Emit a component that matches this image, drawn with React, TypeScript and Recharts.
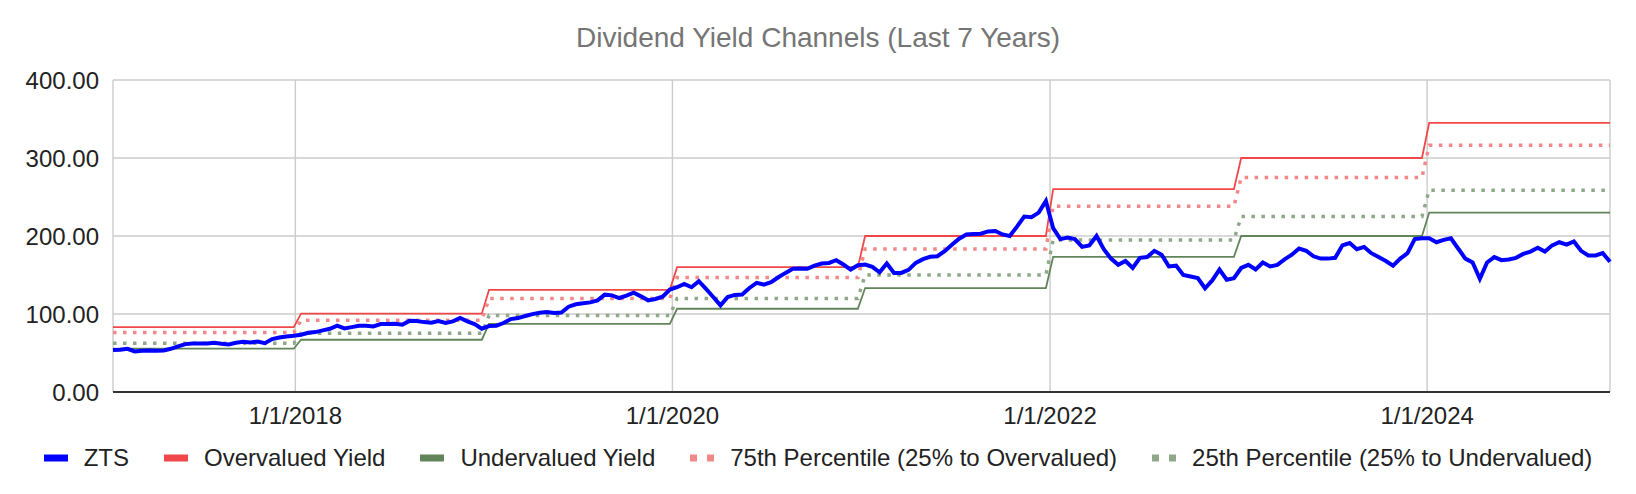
import { CartesianGrid, Legend, Line, LineChart, XAxis, YAxis } from "recharts";

const FONT = '"Liberation Sans", Arial, sans-serif';

// biweekly observations, Jan 2017 through Dec 2024
const START = Date.UTC(2017, 0, 13);
const STEP = 14 * 24 * 3600 * 1000;

const ZTS = [
  53.7, 54.1, 55.4, 52, 52.8, 53.3, 52.8, 53.3, 55.4, 58.4,
  61.4, 62.2, 62.2, 62.2, 63.1, 61.8, 61, 63.1, 64.3, 63.5,
  64.8, 62.6, 67.8, 69.9, 71.2, 72.1, 73.4, 76, 76.8, 79,
  81.1, 85, 81.5, 83.2, 85, 85, 84.1, 87.1, 87.1, 87.6,
  86.3, 91.2, 91, 89.6, 88.8, 91, 88.4, 90.5, 94.8, 90.5,
  87.1, 81.2, 84.5, 85, 88.4, 93.5, 94.8, 97.4, 99.9, 101.6,
  102.5, 101.2, 102, 109.4, 112.4, 113.7, 114.9, 117.5, 124.8, 123.9,
  120.5, 123.5, 127.4, 122.6, 117.5, 119.2, 122.2, 131.3, 134.3, 138.6,
  134.3, 142, 132.1, 121.8, 111, 121.8, 124.5, 124.9, 133.4, 139.9,
  137.7, 140.7, 147.1, 152.7, 157.9, 158.3, 157.9, 162.1, 164.7, 165.5,
  169, 163.4, 157, 162.6, 163.4, 160.4, 153.5, 164.7, 152.7, 152.7,
  156.6, 165.5, 170.3, 173.3, 174.1, 180.6, 188.8, 196.5, 202, 202.5,
  202.9, 205.9, 206.5, 202, 200, 212, 225, 224, 230, 245,
  210, 196, 198, 196, 186, 188, 200, 183, 171, 163,
  168, 159, 172, 173, 181, 176, 161, 162, 150, 148,
  146, 133, 143, 157, 144, 146, 159, 163, 157, 166,
  161, 163, 170, 176, 184, 181, 174, 171, 171, 172,
  188, 191, 183, 186, 178, 173, 168, 162, 171, 178,
  196, 197, 197, 192, 195, 197, 184, 171, 166, 145,
  166, 173, 169, 170, 172, 177, 180, 185, 180, 188,
  192, 189, 193, 181, 175, 175, 178, 167,
];

const DATES = ZTS.map((_, i) => START + i * STEP);

// yearly channel levels, 2017..2024
const FIRST_YEAR = 2017;
const OVERVALUED = [83.2, 100.4, 131, 160, 200, 260, 300, 345];
const UNDERVALUED = [55.5, 67, 87.3, 106.7, 133.3, 173.3, 200, 230];
const PCT_75 = [76.3, 92, 120, 146.7, 183.3, 238.3, 275, 316.3];
const PCT_25 = [62.4, 75.3, 98.2, 120, 150, 195, 225, 258.8];

const X_TICK_LABELS = ["1/1/2018", "1/1/2020", "1/1/2022", "1/1/2024"];
const X_TICKS = X_TICK_LABELS.map((s) => {
  const [m, d, y] = s.split("/").map(Number);
  return Date.UTC(y, m - 1, d);
});
const Y_TICKS = [0, 100, 200, 300, 400];

const data = DATES.map((t, i) => {
  const yi = new Date(t).getUTCFullYear() - FIRST_YEAR;
  return {
    t,
    zts: ZTS[i],
    over: OVERVALUED[yi],
    under: UNDERVALUED[yi],
    p75: PCT_75[yi],
    p25: PCT_25[yi],
  };
});

const SERIES = [
  { key: "zts", name: "ZTS", color: "#0000ff", width: 4, dotted: false },
  { key: "over", name: "Overvalued Yield", color: "#f04848", width: 1.8, dotted: false },
  { key: "under", name: "Undervalued Yield", color: "#62845a", width: 1.8, dotted: false },
  { key: "p75", name: "75th Percentile (25% to Overvalued)", color: "#f28888", width: 3.5, dotted: true },
  { key: "p25", name: "25th Percentile (25% to Undervalued)", color: "#8fa889", width: 3.5, dotted: true },
];

function formatDate(t: number) {
  const i = X_TICKS.indexOf(t);
  return i >= 0 ? X_TICK_LABELS[i] : "";
}

function ChartLegend() {
  return (
    <div
      style={{
        display: "flex",
        justifyContent: "center",
        alignItems: "center",
        height: 30,
        gap: 35,
        fontFamily: FONT,
        fontSize: 24,
        color: "#222",
        whiteSpace: "nowrap",
      }}
    >
      {SERIES.map((s) => (
        <div key={s.key} style={{ display: "flex", alignItems: "center" }}>
          <svg width={24} height={8} style={{ marginRight: 16 }}>
            {s.dotted ? (
              <line x1={0} y1={4} x2={24} y2={4} stroke={s.color} strokeWidth={7} strokeDasharray="7 10" />
            ) : (
              <rect x={0} y={0.5} width={24} height={7} fill={s.color} />
            )}
          </svg>
          <span>{s.name}</span>
        </div>
      ))}
    </div>
  );
}

export default function App() {
  const drawOrder = [...SERIES.slice(1), SERIES[0]];
  return (
    <div style={{ position: "absolute", left: 0, top: 0, background: "#fff" }}>
      <LineChart
        width={1636}
        height={494}
        data={data}
        margin={{ top: 80, right: 26, bottom: 21, left: 0 }}
        style={{ fontFamily: FONT }}
      >
        <text x={818} y={47} textAnchor="middle" fontSize={28} fill="#757575" fontFamily={FONT}>
          Dividend Yield Channels (Last 7 Years)
        </text>
        <CartesianGrid stroke="#cccccc" strokeWidth={1.4} />
        <XAxis
          dataKey="t"
          type="number"
          domain={["dataMin", "dataMax"]}
          ticks={X_TICKS}
          tickFormatter={formatDate}
          height={51}
          tickSize={0}
          tickMargin={15}
          tick={{ fontSize: 24, fill: "#222", fontFamily: FONT }}
          axisLine={{ stroke: "#333", strokeWidth: 2 }}
          tickLine={false}
        />
        <YAxis
          type="number"
          domain={[0, 400]}
          ticks={Y_TICKS}
          tickFormatter={(v: number) => v.toFixed(2)}
          width={113}
          tickSize={0}
          tickMargin={14}
          tick={{ fontSize: 24, fill: "#222", fontFamily: FONT }}
          axisLine={false}
          tickLine={false}
        />
        {drawOrder.map((s) => (
          <Line
            key={s.key}
            type="linear"
            dataKey={s.key}
            name={s.name}
            stroke={s.color}
            strokeWidth={s.width}
            strokeDasharray={s.dotted ? "3.5 6.5" : undefined}
            dot={false}
            activeDot={false}
            isAnimationActive={false}
          />
        ))}
        <Legend verticalAlign="bottom" content={() => <ChartLegend />} wrapperStyle={{ left: 0, width: 1636 }} />
      </LineChart>
    </div>
  );
}
